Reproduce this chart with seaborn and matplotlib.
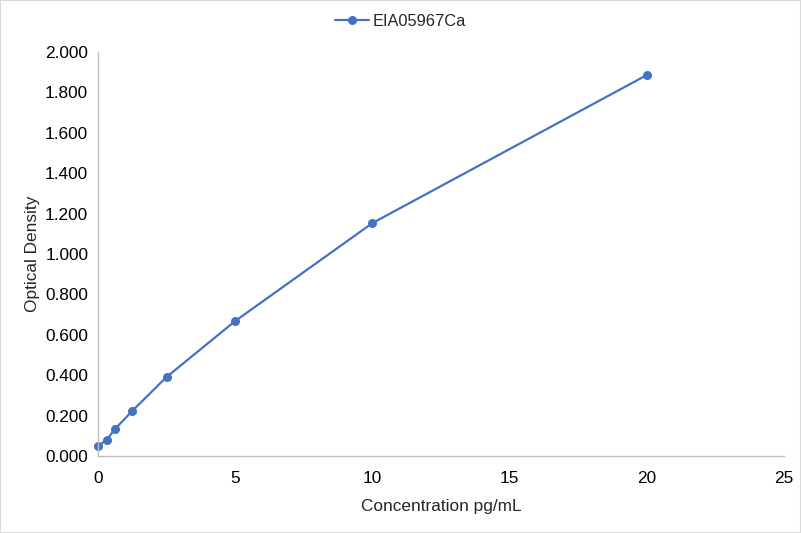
import seaborn as sns
import matplotlib.pyplot as plt
import pandas as pd

# standard curve data
conc = [0, 0.3125, 0.625, 1.25, 2.5, 5, 10, 20]
od = [0.050, 0.079, 0.134, 0.223, 0.391, 0.668, 1.153, 1.886]
series_name = "EIA05967Ca"

df = pd.DataFrame({"conc": conc, "od": od})

sns.set_style("white")
plt.rcParams['font.family'] = ['Liberation Sans', 'DejaVu Sans']

fig = plt.figure(figsize=(8.01, 5.33), dpi=100)
ax = fig.add_axes([0.1223, 0.1445, 0.8565, 0.7579])

sns.lineplot(data=df, x="conc", y="od", ax=ax, color="#4472C4", marker="o",
             markersize=6.5, markeredgewidth=0, linewidth=1.6, label=series_name,
             clip_on=False)

ax.set_xlim(0, 25)
ax.set_ylim(0, 2.0)
ax.set_xticks([0, 5, 10, 15, 20, 25])
ax.set_yticks([i * 0.2 for i in range(11)])
ax.set_yticklabels([f"{i * 0.2:.3f}" for i in range(11)])
ax.tick_params(axis="both", labelsize=12.4, colors="#000000", length=0)
ax.tick_params(axis="x", pad=11)
ax.tick_params(axis="y", pad=7)
ax.set_xlabel("Concentration pg/mL", fontsize=12.4, labelpad=9.5)
ax.set_ylabel("Optical Density", fontsize=12.4, labelpad=4)

for s in ["top", "right"]:
    ax.spines[s].set_visible(False)
for s in ["left", "bottom"]:
    ax.spines[s].set_color("#BFBFBF")
    ax.spines[s].set_linewidth(1)

ax.get_legend().remove()
handles, labels = ax.get_legend_handles_labels()
fig.legend(handles, labels, loc="center", bbox_to_anchor=(0.5, 0.96),
           frameon=False, fontsize=11.8, handlelength=2.1, handletextpad=0.2)

# grey frame around the figure
fig.patches.append(plt.Rectangle((0, 0), 1, 1, transform=fig.transFigure,
                                 fill=False, edgecolor="#D9D9D9", linewidth=1.5))

fig.savefig("out.png", dpi=100)
